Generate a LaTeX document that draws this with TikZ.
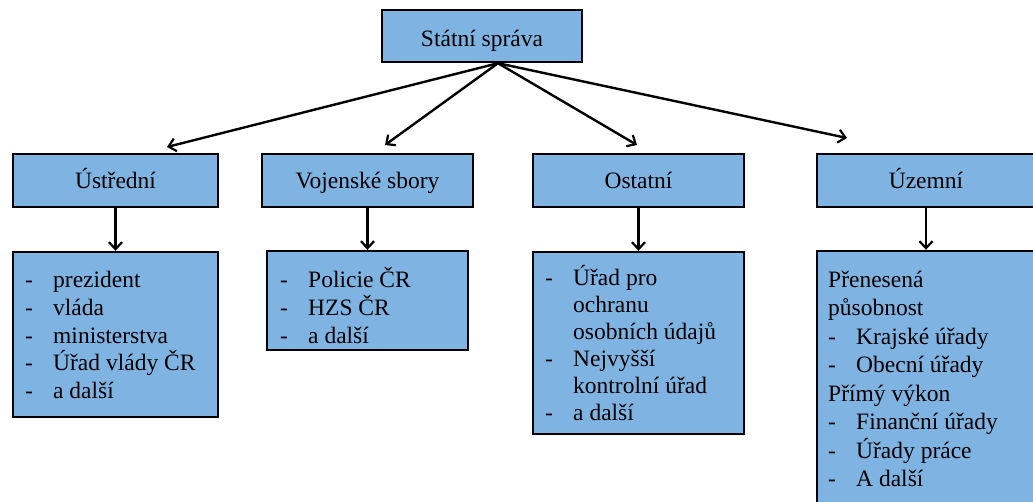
\documentclass[tikz,border=0pt]{standalone}
\usepackage{fontspec}
\setmainfont{Liberation Serif}
\usetikzlibrary{arrows.meta}
\definecolor{boxblue}{RGB}{127,179,225}
\newcommand\li[1]{\makebox[28pt][l]{-}#1}
\newcommand\lc[1]{\hspace*{28pt}#1}
\newcommand\fs{\rule{0pt}{24pt}}
\tikzset{
  box/.style={draw=black, line width=2.4pt, fill=boxblue, inner sep=0pt, rectangle},
  head/.style={box, font=\rmfamily\fontsize{23.5}{28}\selectfont, text height=17pt, text depth=2pt},
  listtxt/.style={anchor=north west, inner sep=0pt, align=left},
  conn/.style={line width=2.4pt, -{Straight Barb[length=7pt,width=13pt,line width=2.2pt]}}
}
\begin{document}
\begin{tikzpicture}[x=1pt,y=-1pt]
\useasboundingbox (0,0) rectangle (1033,501);
% top
\node[box, font=\rmfamily\fontsize{23.5}{28}\selectfont, text height=22pt, text depth=2pt,
      minimum width=200pt, minimum height=52pt] (top) at (482,36) {Státní správa};
% headers
\node[head, minimum width=205pt, minimum height=53pt] (h1) at (115.5,180.5) {Ústřední};
\node[head, minimum width=211pt, minimum height=53pt] (h2) at (367.5,180.5) {Vojenské sbory};
\node[head, minimum width=211pt, minimum height=53pt] (h3) at (638.5,180.5) {Ostatní};
\node[head, minimum width=218pt, minimum height=53pt] (h4) at (926,180.5) {Územní};
% list boxes
\node[box, minimum width=205pt, minimum height=165pt] (l1) at (115.5,334.5) {};
\node[box, minimum width=201pt, minimum height=99pt] (l2) at (367.5,300.5) {};
\node[box, minimum width=211pt, minimum height=182pt] (l3) at (638.5,343) {};
\node[box, minimum width=218pt, minimum height=256pt] (l4) at (926,379) {};
% list texts
\begin{scope}[font=\rmfamily\fontsize{23.5}{27.9}\selectfont]
\node[listtxt] (t1) at (25,263) {\fs\li{prezident}\\\li{vláda}\\\li{ministerstva}\\\li{Úřad vlády ČR}\\\li{a další}};
\node[listtxt] (t2) at (280,263) {\fs\li{Policie ČR}\\\li{HZS ČR}\\\li{a další}};
\end{scope}
\node[listtxt, font=\rmfamily\fontsize{23.5}{27.0}\selectfont] (t3) at (545,261) {\fs\li{Úřad pro}\\\lc{ochranu}\\\lc{osobních údajů}\\\li{Nejvyšší}\\\lc{kontrolní úřad}\\\li{a další}};
\node[listtxt, font=\rmfamily\fontsize{23.5}{28.5}\selectfont] (t4) at (828,263) {\fs Přenesená\\působnost\\\li{Krajské úřady}\\\li{Obecní úřady}\\Přímý výkon\\\li{Finanční úřady}\\\li{Úřady práce}\\\li{A další}};
% connectors
\coordinate (o) at ([xshift=16pt]top.south);
\coordinate (e1) at (167,147);
\coordinate (e2) at (385,145);
\coordinate (e3) at (637,145);
\coordinate (e4) at (847,138);
\draw[conn] (o) -- (e1);
\draw[conn] (o) -- (e2);
\draw[conn] (o) -- (e3);
\draw[conn] (o) -- (e4);
\draw[conn] (h1.south) -- (l1.north);
\draw[conn] (h2.south) -- (l2.north);
\draw[conn] (h3.south) -- (l3.north);
\draw[conn] (h4.south) -- (l4.north);
\end{tikzpicture}
\end{document}
